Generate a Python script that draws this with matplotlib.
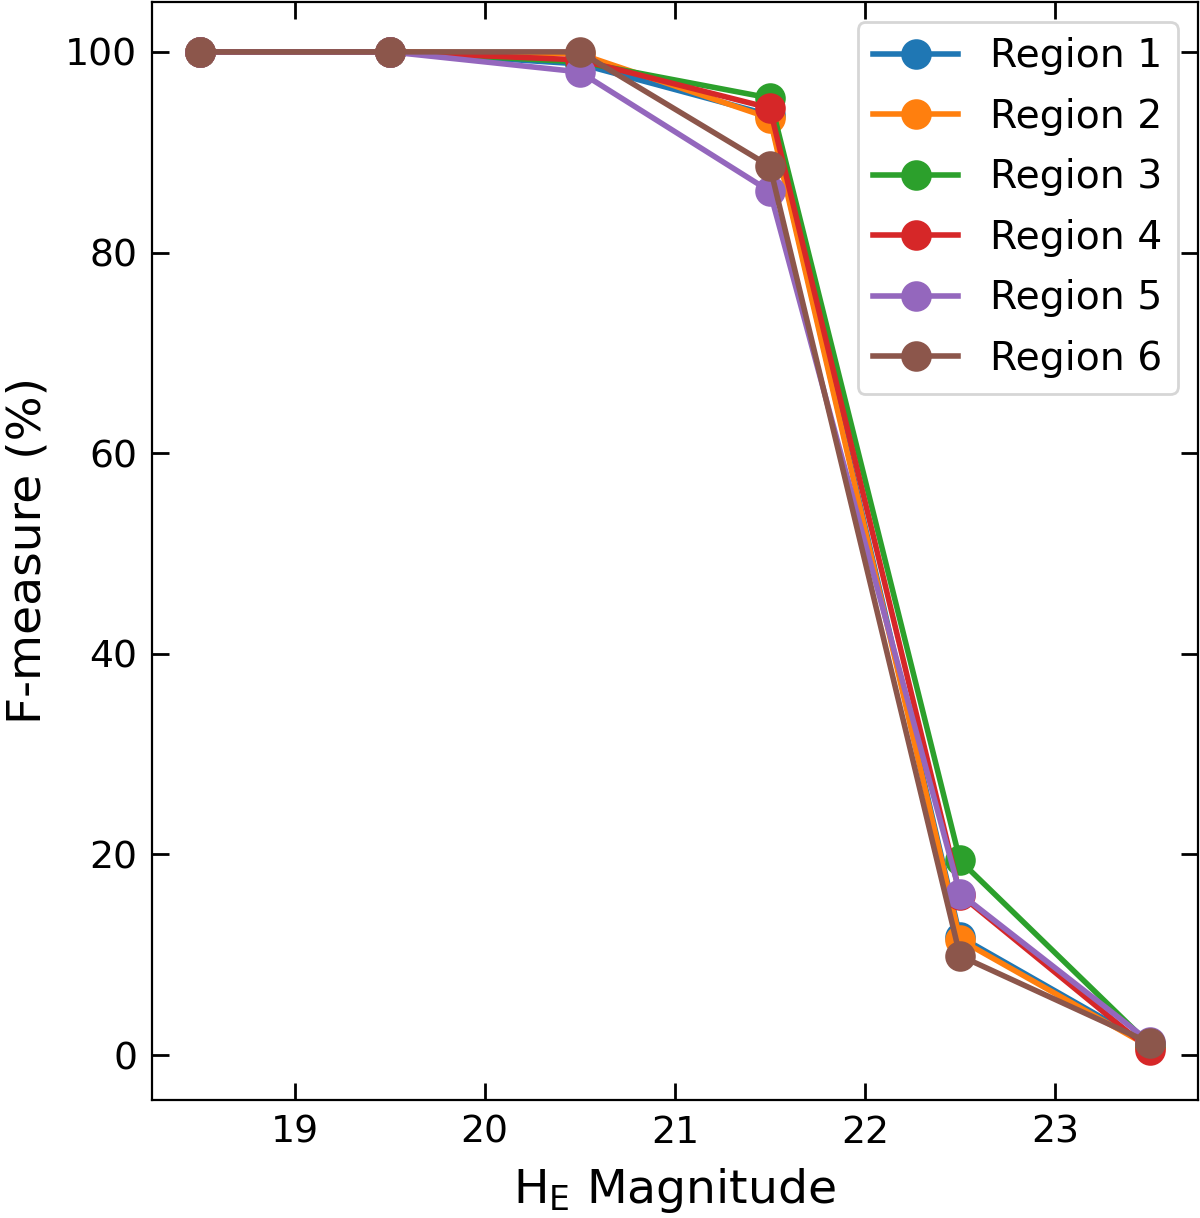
import matplotlib
matplotlib.use("Agg")
import matplotlib.pyplot as plt

magnitudes = [18.5, 19.5, 20.5, 21.5, 22.5, 23.5]
region_names = ["Region 1", "Region 2", "Region 3", "Region 4", "Region 5", "Region 6"]
region1 = [100.0, 100.0, 98.8, 93.7, 11.8, 1.0]
region2 = [100.0, 100.0, 99.8, 93.4, 11.5, 0.8]
region3 = [100.0, 100.0, 99.0, 95.4, 19.4, 1.0]
region4 = [100.0, 100.0, 99.2, 94.4, 16.0, 0.5]
region5 = [100.0, 100.0, 98.0, 86.1, 16.1, 1.3]
region6 = [100.0, 100.0, 100.0, 88.6, 9.9, 1.2]
series = [region1, region2, region3, region4, region5, region6]

fig = plt.figure(figsize=(6, 6.09), dpi=200)
ax = fig.add_axes([0.1267, 0.0969, 0.8713, 0.9015])
for name, vals in zip(region_names, series):
    ax.plot(magnitudes, vals, marker='o', lw=2, ms=10, label=name)

ax.set_xticks([19, 20, 21, 22, 23])
ax.set_yticks([0, 20, 40, 60, 80, 100])
ax.tick_params(direction='in', top=True, right=True, labelsize=13.6,
               length=6, width=1, pad=5.3)
ax.set_xlabel(r'H$_{\rm E}$ Magnitude', fontsize=17, labelpad=5.6)
ax.set_ylabel('F-measure (%)', fontsize=17, labelpad=5.4)
ax.legend(loc='upper right', fontsize=14.2, handlelength=2.15, labelspacing=0.57)
fig.savefig("out.png", dpi=200)
